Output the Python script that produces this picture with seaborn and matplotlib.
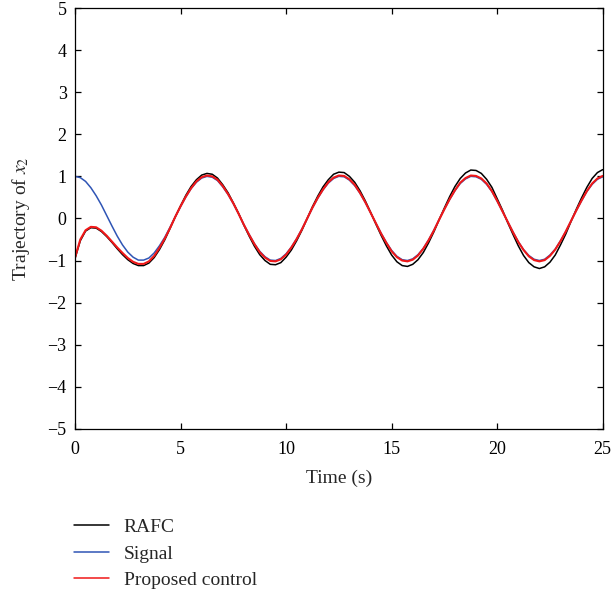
import numpy as np
import pandas as pd
import seaborn as sns
import matplotlib
matplotlib.use("Agg")
import matplotlib.pyplot as plt

# temps (s), pas de 0.25 s
time = np.linspace(0, 25, 101)

# signal de référence
signal = [
    1.00, 0.97, 0.88, 0.73, 0.54, 0.32, 0.07, -0.18, -0.42, -0.63,
    -0.80, -0.92, -0.99, -0.99, -0.94, -0.82, -0.65, -0.45, -0.21, 0.04,
    0.28, 0.51, 0.71, 0.86, 0.96, 1.00, 0.98, 0.90, 0.75, 0.57,
    0.35, 0.11, -0.15, -0.38, -0.60, -0.78, -0.91, -0.99, -1.00, -0.95,
    -0.84, -0.68, -0.48, -0.25, 0.00, 0.25, 0.48, 0.68, 0.84, 0.95,
    1.00, 0.99, 0.91, 0.78, 0.60, 0.38, 0.14, -0.11, -0.35, -0.57,
    -0.76, -0.90, -0.98, -1.00, -0.96, -0.86, -0.71, -0.51, -0.28, -0.03,
    0.22, 0.45, 0.66, 0.83, 0.94, 1.00, 0.99, 0.93, 0.81, 0.64,
    0.41, 0.17, -0.08, -0.32, -0.55, -0.74, -0.88, -0.97, -1.00, -0.97,
    -0.87, -0.73, -0.53, -0.31, -0.06, 0.19, 0.42, 0.64, 0.81, 0.93,
    0.99,
]

# RAFC
rafc = [
    -0.95, -0.53, -0.30, -0.22, -0.23, -0.31, -0.43, -0.57, -0.72, -0.86,
    -0.98, -1.07, -1.12, -1.12, -1.06, -0.93, -0.74, -0.51, -0.24, 0.04,
    0.30, 0.55, 0.76, 0.92, 1.03, 1.07, 1.05, 0.96, 0.80, 0.61,
    0.37, 0.12, -0.16, -0.42, -0.66, -0.86, -1.00, -1.09, -1.10, -1.05,
    -0.92, -0.75, -0.53, -0.28, 0.00, 0.28, 0.53, 0.75, 0.92, 1.05,
    1.10, 1.09, 1.00, 0.86, 0.66, 0.42, 0.15, -0.13, -0.40, -0.65,
    -0.87, -1.03, -1.12, -1.14, -1.09, -0.98, -0.81, -0.58, -0.32, -0.03,
    0.25, 0.52, 0.76, 0.95, 1.08, 1.15, 1.14, 1.07, 0.93, 0.74,
    0.47, 0.20, -0.10, -0.38, -0.65, -0.88, -1.05, -1.15, -1.19, -1.15,
    -1.04, -0.87, -0.63, -0.37, -0.07, 0.22, 0.49, 0.74, 0.95, 1.09,
    1.16,
]

# commande proposée
proposed = [
    -0.93, -0.50, -0.28, -0.20, -0.21, -0.29, -0.41, -0.55, -0.69, -0.82,
    -0.94, -1.03, -1.08, -1.08, -1.02, -0.89, -0.70, -0.48, -0.23, 0.04,
    0.29, 0.52, 0.72, 0.88, 0.98, 1.02, 1.00, 0.92, 0.77, 0.58,
    0.36, 0.11, -0.15, -0.39, -0.61, -0.80, -0.93, -1.01, -1.02, -0.97,
    -0.86, -0.69, -0.49, -0.26, 0.00, 0.26, 0.49, 0.69, 0.86, 0.97,
    1.02, 1.01, 0.93, 0.80, 0.61, 0.39, 0.14, -0.11, -0.36, -0.58,
    -0.78, -0.92, -1.00, -1.02, -0.98, -0.88, -0.72, -0.52, -0.29, -0.03,
    0.22, 0.46, 0.67, 0.85, 0.96, 1.02, 1.01, 0.95, 0.83, 0.65,
    0.42, 0.17, -0.08, -0.33, -0.56, -0.75, -0.90, -0.99, -1.02, -0.99,
    -0.89, -0.74, -0.54, -0.31, -0.06, 0.19, 0.43, 0.65, 0.83, 0.95,
    1.01,
]

# valeur initiale des commandes avant le saut
start_value = 1.0

df = pd.concat([
    pd.DataFrame({"t": np.r_[0.0, time], "x2": [start_value] + rafc, "serie": "RAFC"}),
    pd.DataFrame({"t": time, "x2": signal, "serie": "Signal"}),
    pd.DataFrame({"t": np.r_[0.0, time], "x2": [start_value] + proposed, "serie": "Proposed control"}),
], ignore_index=True)

sns.set_style("ticks")
plt.rcParams["font.family"] = ["Liberation Serif", "DejaVu Serif"]
plt.rcParams["mathtext.fontset"] = "stix"
plt.rcParams["xtick.direction"] = "in"
plt.rcParams["ytick.direction"] = "in"

fig = plt.figure(figsize=(6.15, 5.94), dpi=100)
ax = fig.add_axes([0.122, 0.278, 0.858, 0.7085])

palette = {"RAFC": "black", "Signal": "#2f55b5", "Proposed control": "#f01818"}
sns.lineplot(data=df, x="t", y="x2", hue="serie", palette=palette, sort=False,
             estimator=None, ax=ax, linewidth=1.1)
ax.lines[2].set_linewidth(1.5)

ax.set_xlim(0, 25)
ax.set_ylim(-5, 5)
ax.set_xticks([0, 5, 10, 15, 20, 25])
ax.set_yticks(range(-5, 6))
ax.tick_params(top=True, right=True, labeltop=False, labelright=False,
               length=4, width=0.9, labelsize=13, colors="black")
ax.tick_params(axis="x", pad=9)
ax.tick_params(axis="y", pad=6)
for s in ax.spines.values():
    s.set_linewidth(0.9)
    s.set_color("black")

ax.set_xlabel("Time (s)", fontsize=14, labelpad=8)
ax.set_ylabel("Trajectory of $x_2$", fontsize=14, labelpad=11)

sns.move_legend(ax, loc="upper left", bbox_to_anchor=(0.095, 0.153),
                bbox_transform=fig.transFigure, frameon=False, title=None,
                fontsize=14, handlelength=1.8, handletextpad=0.75,
                labelspacing=0.45, borderpad=0.3)

fig.savefig("out.png", dpi=100)
